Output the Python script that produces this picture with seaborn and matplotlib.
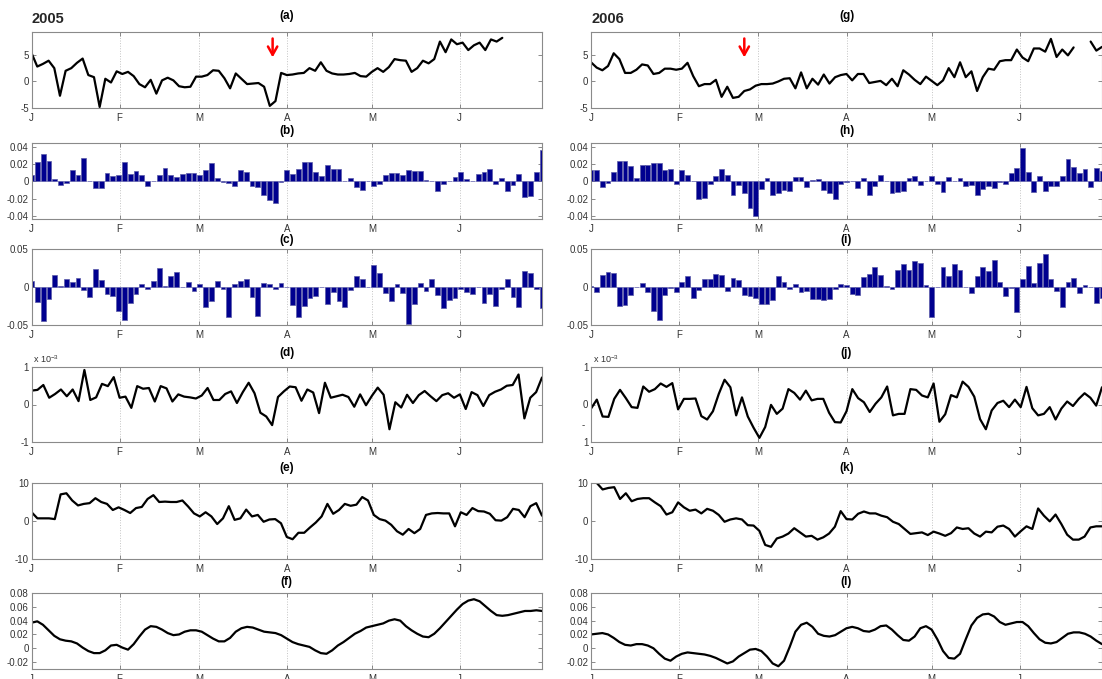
import numpy as np
import pandas as pd
import matplotlib
matplotlib.use('Agg')
import matplotlib.pyplot as plt
import seaborn as sns

sns.set_theme(style='white')
plt.rcParams['font.family'] = ['Liberation Sans', 'DejaVu Sans']
plt.rcParams['axes.unicode_minus'] = False
plt.rcParams['mathtext.default'] = 'regular'

# month ticks (day of year) and labels
month_days = [0, 31, 59, 90, 120, 151]
month_labels = ['J', 'F', 'M', 'A', 'M', 'J']

# ---- 2005 ----
a_2005 = [5.3, 2.8, 3.3, 3.9, 2.5, -2.7, 2.0, 2.5, 3.5, 4.3,
          1.2, 0.8, -4.8, 0.5, -0.2, 1.9, 1.4, 1.8, 1.0, -0.5,
          -1.1, 0.3, -2.3, 0.2, 0.7, 0.2, -0.9, -1.1, -1.0, 0.9,
          0.9, 1.2, 2.1, 2.0, 0.6, -1.3, 1.5, 0.5, -0.5, -0.4,
          -0.3, -1.0, -4.6, -3.7, 1.6, 1.2, 1.3, 1.5, 1.6, 2.5,
          2.0, 3.6, 2.0, 1.5, 1.3, 1.3, 1.4, 1.6, 1.0, 0.9,
          1.8, 2.5, 1.8, 2.7, 4.2, 4.0, 3.9, 1.8, 2.5, 3.9,
          3.4, 4.2, 7.5, 5.5, 7.9, 7.0, 7.3, 5.9, 6.8, 7.3,
          5.9, 7.9, 7.5, 8.2]
a_2005_end = 166

b_2005 = [0.007, 0.023, 0.032, 0.024, 0.003, -0.004, -0.002, 0.013, 0.008, 0.028,
          0.001, -0.008, -0.008, 0.010, 0.006, 0.008, 0.023, 0.009, 0.012, 0.008,
          -0.005, 0.0, 0.008, 0.016, 0.007, 0.005, 0.009, 0.010, 0.010, 0.007,
          0.013, 0.022, 0.004, -0.001, -0.002, -0.005, 0.013, 0.011, -0.005, -0.007,
          -0.016, -0.022, -0.025, -0.001, 0.013, 0.009, 0.015, 0.023, 0.023, 0.011,
          0.006, 0.019, 0.015, 0.014, 0.001, 0.004, -0.006, -0.010, 0.001, -0.005,
          -0.003, 0.007, 0.010, 0.010, 0.007, 0.013, 0.012, 0.012, 0.002, 0.0,
          -0.011, -0.003, 0.001, 0.005, 0.011, 0.003, 0.0, 0.009, 0.011, 0.015,
          -0.003, 0.004, -0.011, -0.004, 0.009, -0.018, -0.017, 0.011, 0.037]

c_2005 = [0.008, -0.020, -0.045, -0.016, 0.016, 0.001, 0.011, 0.007, 0.012, -0.004,
          -0.013, 0.024, 0.009, -0.009, -0.012, -0.031, -0.044, -0.021, -0.009, 0.004,
          -0.002, 0.008, 0.025, 0.001, 0.015, 0.020, 0.0, 0.007, -0.005, 0.004,
          -0.026, -0.019, 0.008, -0.003, -0.040, 0.004, 0.008, 0.010, -0.013, -0.038,
          0.005, 0.004, -0.003, 0.005, 0.0, -0.024, -0.040, -0.025, -0.014, -0.012,
          0.0, -0.022, -0.007, -0.019, -0.026, -0.004, 0.014, 0.011, 0.0, 0.029,
          0.019, -0.008, -0.018, 0.004, -0.008, -0.049, -0.023, 0.005, -0.005, 0.010,
          -0.010, -0.028, -0.017, -0.014, -0.002, -0.007, -0.009, 0.0, -0.021, -0.009,
          -0.025, -0.002, 0.011, -0.013, -0.026, 0.021, 0.018, -0.002, -0.028]

# panel (d) in units of 1e-3
d_2005 = [0.37, 0.39, 0.52, 0.18, 0.28, 0.40, 0.22, 0.40, 0.09, 0.92,
          0.12, 0.19, 0.55, 0.49, 0.73, 0.18, 0.21, -0.09, 0.49, 0.42,
          0.44, 0.08, 0.49, 0.43, 0.08, 0.27, 0.21, 0.19, 0.16, 0.24,
          0.44, 0.12, 0.12, 0.28, 0.35, 0.04, 0.33, 0.58, 0.30, -0.22,
          -0.32, -0.55, 0.20, 0.35, 0.48, 0.46, 0.10, 0.40, 0.32, -0.23,
          0.58, 0.18, 0.22, 0.26, 0.20, -0.06, 0.27, -0.02, 0.23, 0.45,
          0.26, -0.66, 0.06, -0.08, 0.26, 0.04, 0.25, 0.36, 0.22, 0.09,
          0.25, 0.30, 0.18, 0.27, -0.12, 0.33, 0.25, -0.04, 0.25, 0.34,
          0.40, 0.50, 0.52, 0.80, -0.37, 0.18, 0.33, 0.72]

e_2005 = [2.3, 0.7, 0.7, 0.7, 0.5, 7.0, 7.3, 5.4, 4.1, 4.5,
          4.7, 6.0, 5.0, 4.5, 2.9, 3.6, 2.9, 2.1, 3.4, 3.7,
          5.8, 6.8, 5.0, 5.1, 5.0, 5.0, 5.4, 3.8, 2.0, 1.2,
          2.3, 1.2, -0.8, 0.7, 3.9, 0.3, 0.7, 3.0, 1.2, 1.6,
          -0.2, 0.4, 0.5, -0.6, -4.2, -4.8, -3.1, -3.1, -1.7, -0.4,
          1.2, 4.5, 1.9, 2.9, 4.5, 4.0, 4.3, 6.3, 5.4, 1.6,
          0.5, 0.1, -1.0, -2.7, -3.6, -2.1, -3.2, -2.1, 1.6, 2.0,
          2.1, 2.0, 2.0, -1.4, 2.3, 1.6, 3.4, 2.6, 2.5, 1.9,
          0.2, 0.1, 1.0, 3.2, 2.9, 1.0, 3.9, 4.7, 1.4]

f_2005 = [0.037, 0.039, 0.034, 0.026, 0.018, 0.013, 0.011, 0.010, 0.007, 0.001,
          -0.004, -0.007, -0.007, -0.003, 0.004, 0.005, 0.001, -0.002, 0.006, 0.017,
          0.027, 0.032, 0.031, 0.027, 0.022, 0.019, 0.020, 0.024, 0.026, 0.026,
          0.024, 0.019, 0.014, 0.010, 0.010, 0.015, 0.024, 0.029, 0.031, 0.030,
          0.027, 0.024, 0.023, 0.022, 0.019, 0.014, 0.009, 0.006, 0.004, 0.002,
          -0.003, -0.007, -0.008, -0.003, 0.004, 0.009, 0.015, 0.021, 0.025, 0.030,
          0.032, 0.034, 0.036, 0.040, 0.042, 0.040, 0.032, 0.026, 0.021, 0.017,
          0.016, 0.021, 0.029, 0.038, 0.047, 0.056, 0.064, 0.069, 0.071, 0.068,
          0.061, 0.054, 0.048, 0.047, 0.048, 0.050, 0.052, 0.054, 0.054, 0.055,
          0.054]

# ---- 2006 ----
g_2006 = [3.6, 2.6, 2.1, 2.9, 5.3, 4.2, 1.6, 1.6, 2.2, 3.2,
          3.0, 1.4, 1.6, 2.4, 2.4, 2.2, 2.4, 3.5, 1.0, -0.9,
          -0.5, -0.5, 0.3, -2.9, -1.0, -3.1, -2.9, -1.8, -1.5, -0.8,
          -0.5, -0.5, -0.4, 0.0, 0.5, 0.6, -1.3, 1.7, -1.3, 0.5,
          -0.6, 1.3, -0.4, 0.8, 1.2, 1.4, 0.2, 1.4, 1.4, -0.3,
          -0.1, 0.1, -0.7, 0.5, -0.9, 2.1, 1.3, 0.3, -0.5, 0.9,
          0.1, -0.7, 0.2, 2.5, 0.8, 3.6, 0.8, 1.9, -1.8, 0.8,
          2.4, 2.2, 3.8, 4.0, 4.0, 6.0, 4.5, 3.8, 6.2, 6.2,
          5.6, 8.0, 4.6, 6.0, 4.9, 6.4, np.nan, np.nan, 7.5, 5.8,
          6.5]

h_2006 = [0.013, 0.013, -0.007, -0.002, 0.011, 0.024, 0.024, 0.018, 0.004, 0.019,
          0.019, 0.021, 0.022, 0.013, 0.014, -0.003, 0.013, 0.008, 0.0, -0.020,
          -0.019, -0.003, 0.006, 0.014, 0.007, -0.016, -0.004, -0.014, -0.031, -0.040,
          -0.009, 0.004, -0.016, -0.013, -0.010, -0.011, 0.005, 0.005, -0.006, 0.002,
          0.003, -0.010, -0.013, -0.020, -0.003, -0.001, 0.0, -0.008, 0.004, -0.016,
          -0.005, 0.007, 0.0, -0.013, -0.012, -0.011, 0.004, 0.006, -0.004, 0.001,
          0.006, -0.003, -0.012, 0.005, 0.001, 0.004, -0.005, -0.004, -0.016, -0.009,
          -0.005, -0.008, -0.001, -0.003, 0.010, 0.016, 0.039, 0.011, -0.012, 0.006,
          -0.011, -0.005, -0.005, 0.006, 0.026, 0.017, 0.010, 0.015, -0.006, 0.016,
          0.012]

i_2006 = [0.001, -0.006, 0.016, 0.020, 0.019, -0.025, -0.024, -0.010, 0.0, 0.005,
          -0.007, -0.031, -0.044, -0.010, -0.001, -0.006, 0.007, 0.014, -0.015, -0.004,
          0.010, 0.010, 0.017, 0.016, -0.005, 0.012, 0.009, -0.010, -0.012, -0.015,
          -0.023, -0.023, -0.017, 0.014, 0.007, -0.002, 0.004, -0.007, -0.005, -0.016,
          -0.016, -0.017, -0.016, -0.002, 0.004, 0.002, -0.009, -0.011, 0.013, 0.017,
          0.026, 0.016, 0.001, -0.002, 0.022, 0.030, 0.023, 0.034, 0.032, 0.003,
          -0.039, 0.0, 0.026, 0.015, 0.030, 0.022, 0.0, -0.008, 0.015, 0.026,
          0.021, 0.036, 0.007, -0.012, -0.001, -0.033, 0.010, 0.027, 0.005, 0.031,
          0.044, 0.011, -0.005, -0.026, 0.006, 0.012, -0.008, 0.003, 0.0, -0.021,
          -0.015]

# panel (j) in units of 1e-3
j_2006 = [-0.11, 0.13, -0.32, -0.33, 0.15, 0.39, 0.17, -0.07, -0.09, 0.48,
          0.34, 0.41, 0.56, 0.47, 0.57, -0.13, 0.15, 0.15, 0.16, -0.31,
          -0.40, -0.18, 0.28, 0.66, 0.46, -0.29, 0.19, -0.32, -0.62, -0.89,
          -0.60, -0.01, -0.25, -0.11, 0.41, 0.31, 0.13, 0.37, 0.11, 0.15,
          0.15, -0.22, -0.47, -0.48, -0.18, 0.41, 0.17, 0.06, -0.20, 0.02,
          0.19, 0.48, -0.29, -0.25, -0.25, 0.41, 0.39, 0.24, 0.19, 0.56,
          -0.46, -0.26, 0.25, 0.19, 0.61, 0.47, 0.21, -0.39, -0.66, -0.16,
          0.04, 0.10, -0.07, 0.13, -0.07, 0.47, -0.10, -0.29, -0.25, -0.07,
          -0.40, -0.11, 0.08, -0.04, 0.15, 0.30, 0.18, -0.03, 0.46]

k_2006 = [10.8, 10.0, 8.3, 8.7, 8.9, 5.8, 7.3, 5.2, 5.8, 6.0,
          6.0, 4.9, 3.9, 1.7, 2.3, 4.9, 3.6, 2.7, 3.0, 2.0,
          3.2, 2.7, 1.6, -0.2, 0.4, 0.7, 0.4, -1.1, -1.2, -2.6,
          -6.3, -6.8, -4.6, -4.1, -3.3, -1.9, -3.0, -4.1, -3.9, -4.9,
          -4.3, -3.3, -1.5, 2.6, 0.5, 0.4, 1.9, 2.5, 2.0, 2.0,
          1.4, 1.0, -0.2, -0.8, -2.1, -3.4, -3.2, -3.0, -3.7, -2.8,
          -3.3, -3.9, -3.2, -1.7, -2.1, -1.9, -3.3, -4.1, -2.8, -3.0,
          -1.5, -1.2, -2.1, -4.1, -2.7, -1.4, -2.1, 3.3, 1.4, -0.1,
          1.7, -0.8, -3.6, -4.9, -4.9, -4.1, -1.7, -1.4, -1.4]

l_2006 = [0.020, 0.021, 0.022, 0.020, 0.015, 0.009, 0.005, 0.004, 0.006, 0.006,
          0.004, 0.000, -0.008, -0.015, -0.018, -0.012, -0.008, -0.006, -0.007, -0.008,
          -0.009, -0.011, -0.014, -0.018, -0.022, -0.019, -0.012, -0.007, -0.002, -0.001,
          -0.004, -0.012, -0.022, -0.026, -0.018, 0.002, 0.024, 0.034, 0.037, 0.031,
          0.021, 0.018, 0.017, 0.019, 0.024, 0.029, 0.031, 0.029, 0.025, 0.024,
          0.027, 0.032, 0.033, 0.027, 0.019, 0.012, 0.011, 0.017, 0.029, 0.032,
          0.027, 0.013, -0.004, -0.014, -0.015, -0.008, 0.013, 0.033, 0.044, 0.049,
          0.050, 0.046, 0.038, 0.034, 0.036, 0.038, 0.038, 0.032, 0.022, 0.013,
          0.008, 0.007, 0.009, 0.015, 0.021, 0.023, 0.023, 0.021, 0.017, 0.011,
          0.006]

arrow_day = {'2005': 85, '2006': 54}

# y axis settings per row: limits, ticks, tick labels
row_ylim = [(-5, 9.3), (-0.044, 0.045), (-0.05, 0.05), (-1, 1), (-10, 10), (-0.03, 0.08)]
row_yticks = [[-5, 0, 5], [-0.04, -0.02, 0, 0.02, 0.04], [-0.05, 0, 0.05],
              [-1, 0, 1], [-10, 0, 10], [-0.02, 0, 0.02, 0.04, 0.06, 0.08]]
row_ylabels = [['-5', '0', '5'], ['-0.04', '-0.02', '0', '0.02', '0.04'],
               ['-0.05', '0', '0.05'], ['-1', '0', '1'], ['-10', '0', '10'],
               ['-0.02', '0', '0.02', '0.04', '0.06', '0.08']]

# layout in pixels
W, H = 1102, 679
col_x = [31.6, 591]
col_w = [510.4, 511]
rows_px = [(32, 108), (143, 219), (249, 325), (367, 442), (483, 559), (593, 669)]
title_y = [16, 131, 240, 353, 468, 582]

fig = plt.figure(figsize=(W / 100, H / 100), dpi=100)

BAR = '#00008f'
BAR_EDGE = '#5a5aa8'


def make_ax(col, row):
    top, bot = rows_px[row]
    ax = fig.add_axes([col_x[col] / W, 1 - bot / H, col_w[col] / W, (bot - top) / H])
    return ax


def style_ax(ax, row):
    ax.set_xlim(0, 180)
    ax.set_ylim(*row_ylim[row])
    ax.set_xticks(month_days)
    ax.set_xticklabels(month_labels)
    ax.set_yticks(row_yticks[row])
    ax.set_yticklabels(row_ylabels[row])
    ax.set_axisbelow(True)
    ax.grid(axis='x', linestyle=':', color='#c4c4c4', linewidth=0.7)
    ax.grid(axis='y', visible=False)
    ax.tick_params(direction='in', length=3, width=0.6, color='#777777',
                   labelcolor='#333333', labelsize=7,
                   bottom=True, left=True, top=True, right=True)
    ax.tick_params(axis='x', pad=3.5)
    ax.tick_params(axis='y', pad=2)
    for sp in ax.spines.values():
        sp.set_color('#8a8a8a')
        sp.set_linewidth(0.8)
    ax.set_xlabel('')
    ax.set_ylabel('')


def title(ax, row, text):
    top, bot = rows_px[row]
    ax.set_title(text, y=1 + (top - title_y[row]) / (bot - top), pad=0, va='center',
                 fontsize=8.5, fontweight='bold', color='black')


def line(ax, vals, end=180):
    df = pd.DataFrame({'day': np.linspace(0, end, len(vals)), 'val': vals})
    df['seg'] = df['val'].isna().cumsum()
    df = df.dropna()
    sns.lineplot(data=df, x='day', y='val', units='seg', estimator=None,
                 color='black', linewidth=1.6, ax=ax)


def bars(ax, vals):
    days = np.linspace(0, 180, len(vals))
    step = days[1] - days[0]
    ax.bar(days, vals, width=0.85 * step, color=BAR, edgecolor=BAR_EDGE,
           linewidth=0.5, zorder=2)


panels = [
    [('line', a_2005, '(a)'), ('bar', b_2005, '(b)'), ('bar', c_2005, '(c)'),
     ('line', d_2005, '(d)'), ('line', e_2005, '(e)'), ('line', f_2005, '(f)')],
    [('line', g_2006, '(g)'), ('bar', h_2006, '(h)'), ('bar', i_2006, '(i)'),
     ('line', j_2006, '(j)'), ('line', k_2006, '(k)'), ('line', l_2006, '(l)')],
]

for col, year in enumerate(['2005', '2006']):
    for row, (kind, vals, lab) in enumerate(panels[col]):
        ax = make_ax(col, row)
        if kind == 'bar':
            bars(ax, vals)
        elif col == 0 and row == 0:
            line(ax, vals, end=a_2005_end)
        else:
            line(ax, vals)
        style_ax(ax, row)
        title(ax, row, lab)
        if row == 0:
            d = arrow_day[year]
            ax.annotate('', xy=(d, 4.0), xytext=(d, 8.6),
                        arrowprops=dict(arrowstyle='->,head_length=0.5,head_width=0.28',
                                        color='red', lw=1.8))
        if row == 3:
            ax.text(0.003, 1 + 8 / 75, 'x 10$^{-3}$', transform=ax.transAxes,
                    fontsize=6.5, ha='left', va='center', color='#333333')
            if col == 1:
                ax.set_yticklabels(['1', '0', '1'])
                ax.text(-0.012, -0.55, '-', transform=ax.get_yaxis_transform(),
                        fontsize=7, ha='right', va='center', color='#333333')
    fig.text(col_x[col] / W, 1 - 19 / H, year, fontsize=10.5, fontweight='bold',
             ha='left', va='center')

fig.savefig('out.png', dpi=100)
